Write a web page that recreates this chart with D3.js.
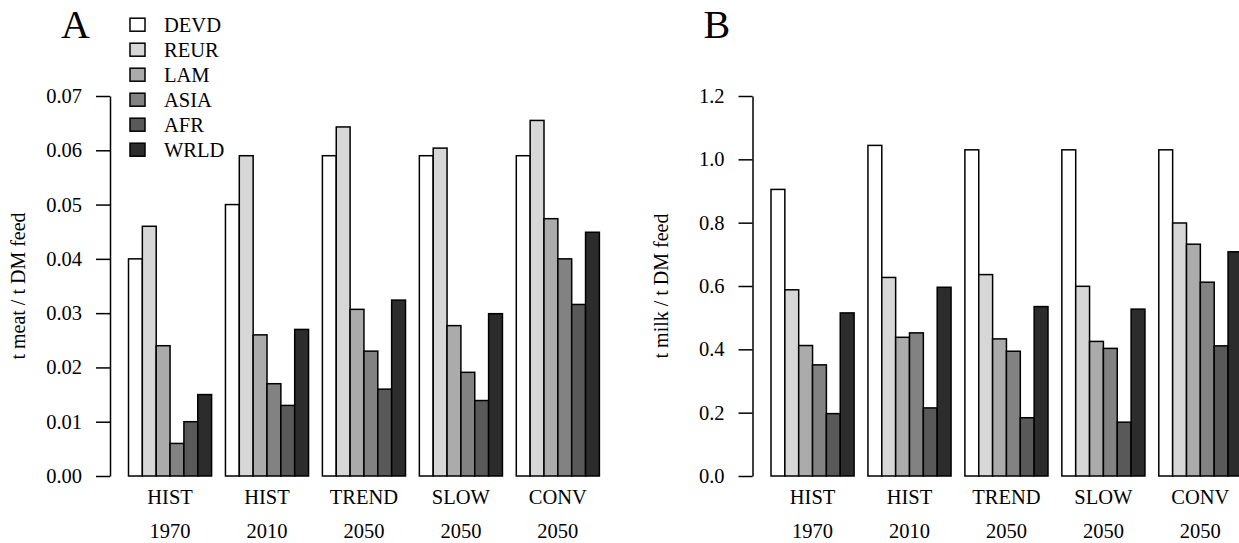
<!DOCTYPE html>
<html>
<head>
<meta charset="utf-8">
<script src="https://cdn.jsdelivr.net/npm/d3@7"></script>
<style>
  html, body { margin: 0; padding: 0; background: #fff; }
  svg { display: block; }
  text { font-family: "Liberation Serif", "Times New Roman", serif; fill: #000; }
</style>
</head>
<body>
<svg id="chart" width="1239" height="543"></svg>
<script>
// ---- data ----
const scenarios = ["HIST", "HIST", "TREND", "SLOW", "CONV"];
const years = ["1970", "2010", "2050", "2050", "2050"];
const regions = ["DEVD", "REUR", "LAM", "ASIA", "AFR", "WRLD"];

// Panel A: t meat / t DM feed
const meatDEVD = [0.040, 0.050, 0.059, 0.059, 0.059];
const meatREUR = [0.046, 0.059, 0.0643, 0.0604, 0.0655];
const meatLAM  = [0.024, 0.026, 0.0307, 0.0277, 0.0474];
const meatASIA = [0.006, 0.017, 0.023, 0.0191, 0.040];
const meatAFR  = [0.010, 0.013, 0.016, 0.0139, 0.0316];
const meatWRLD = [0.015, 0.027, 0.0324, 0.0299, 0.0449];

// Panel B: t milk / t DM feed
const milkDEVD = [0.905, 1.044, 1.030, 1.030, 1.030];
const milkREUR = [0.588, 0.627, 0.636, 0.599, 0.799];
const milkLAM  = [0.412, 0.438, 0.433, 0.425, 0.732];
const milkASIA = [0.351, 0.452, 0.394, 0.403, 0.612];
const milkAFR  = [0.197, 0.215, 0.184, 0.170, 0.411];
const milkWRLD = [0.515, 0.596, 0.535, 0.527, 0.708];

const ticksA = [0, 0.01, 0.02, 0.03, 0.04, 0.05, 0.06, 0.07];
const ticksB = [0, 0.2, 0.4, 0.6, 0.8, 1.0, 1.2];

// ---- styles ----
const fills = ["#ffffff", "#d7d7d7", "#ababab", "#828282", "#595959", "#2c2c2c"];
const FONT = 20.5;
const LW = 1.5;

const svg = d3.select("#chart");
const groupKeys = scenarios.map((s, i) => i);

function panel(opts) {
  const g = svg.append("g");
  const y = d3.scaleLinear().domain(opts.domain).range([476, 96]);
  const x0 = d3.scaleBand().domain(groupKeys)
    .range([opts.axisX + 18.5, opts.axisX + 18.5 + 470.9])
    .paddingInner(1 / 7).paddingOuter(0);
  const x1 = d3.scaleBand().domain(regions).range([0, x0.bandwidth()]);

  const series = opts.series;
  const rows = [];
  groupKeys.forEach(gi => {
    regions.forEach((r, ri) => {
      rows.push({ g: gi, r: r, ri: ri, v: series[ri][gi] });
    });
  });

  g.selectAll("rect.bar").data(rows).enter().append("rect")
    .attr("class", "bar")
    .attr("x", d => x0(d.g) + x1(d.r))
    .attr("width", x1.bandwidth())
    .attr("y", d => y(d.v))
    .attr("height", d => y(0) - y(d.v))
    .attr("fill", d => fills[d.ri])
    .attr("stroke", "#000")
    .attr("stroke-width", LW);

  const axis = d3.axisLeft(y).tickValues(opts.ticks)
    .tickFormat(d3.format(opts.fmt))
    .tickSize(14).tickSizeOuter(0).tickPadding(14);
  const ag = g.append("g").attr("transform", `translate(${opts.axisX},0)`).call(axis);
  ag.select(".domain").attr("stroke", "#000").attr("stroke-width", LW);
  ag.selectAll(".tick line").attr("stroke", "#000").attr("stroke-width", LW);
  ag.selectAll(".tick text").attr("font-size", FONT)
    .attr("font-family", "Liberation Serif, Times New Roman, serif").attr("fill", "#000");

  // category labels (two lines)
  g.selectAll("text.cat1").data(groupKeys).enter().append("text")
    .attr("x", d => x0(d) + x0.bandwidth() / 2).attr("y", 504)
    .attr("text-anchor", "middle").attr("font-size", FONT)
    .text(d => scenarios[d]);
  g.selectAll("text.cat2").data(groupKeys).enter().append("text")
    .attr("x", d => x0(d) + x0.bandwidth() / 2).attr("y", 538.3)
    .attr("text-anchor", "middle").attr("font-size", FONT)
    .text(d => years[d]);

  // y label
  g.append("text")
    .attr("transform", `translate(${opts.axisX - 85},286) rotate(-90)`)
    .attr("text-anchor", "middle").attr("font-size", 20)
    .text(opts.ylab);

  // panel letter
  g.append("text").attr("x", opts.axisX - 49).attr("y", 38.3)
    .attr("font-size", 40).text(opts.letter);
}

panel({
  axisX: 110, domain: [0, 0.07], ticks: ticksA, fmt: ".2f",
  series: [meatDEVD, meatREUR, meatLAM, meatASIA, meatAFR, meatWRLD],
  ylab: "t meat / t DM feed", letter: "A"
});
panel({
  axisX: 752.5, domain: [0, 1.2], ticks: ticksB, fmt: ".1f",
  series: [milkDEVD, milkREUR, milkLAM, milkASIA, milkAFR, milkWRLD],
  ylab: "t milk / t DM feed", letter: "B"
});

// legend (panel A)
const leg = svg.append("g");
const ly = d3.scalePoint().domain(regions).range([24.7, 149.7]);
leg.selectAll("rect").data(regions).enter().append("rect")
  .attr("x", 130).attr("y", d => ly(d) - 6.5)
  .attr("width", 15).attr("height", 13)
  .attr("fill", (d, i) => fills[i]).attr("stroke", "#000").attr("stroke-width", LW);
leg.selectAll("text").data(regions).enter().append("text")
  .attr("x", 164).attr("y", d => ly(d) + 7)
  .attr("font-size", FONT).text(d => d);
</script>
</body>
</html>
